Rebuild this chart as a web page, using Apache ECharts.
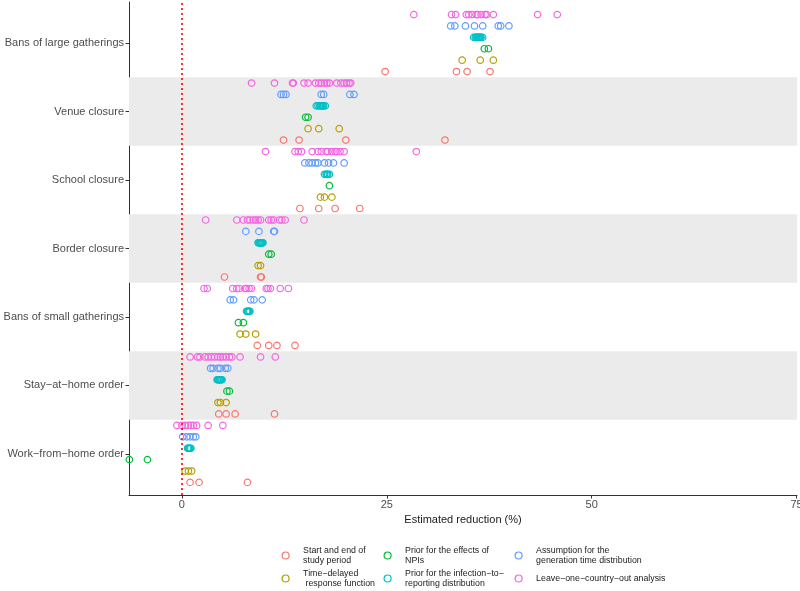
<!DOCTYPE html>
<html>
<head>
<meta charset="utf-8">
<script src="https://cdn.jsdelivr.net/npm/echarts@6/dist/echarts.min.js"></script>
<style>
html,body{margin:0;padding:0;background:#fff;}
#chart{width:800px;height:591px;}
</style>
</head>
<body>
<div id="chart"></div>
<script>
// Categories, listed top to bottom
const categories = ['Bans of large gatherings', 'Venue closure', 'School closure', 'Border closure',
  'Bans of small gatherings', 'Stay\u2212at\u2212home order', 'Work\u2212from\u2212home order'];

// Estimated reduction (%) per category (same order as categories)
const startEnd = [
  [24.8, 33.5, 34.8, 37.6],
  [12.4, 14.3, 20.0, 32.1],
  [14.4, 16.7, 18.7, 21.7],
  [5.2, 9.6, 9.7],
  [9.2, 10.6, 11.6, 13.8],
  [4.5, 5.4, 6.5, 11.3],
  [1.0, 2.1, 8.0]
];
const timeDelayed = [
  [34.2, 36.4, 38.0],
  [15.4, 16.7, 19.2],
  [16.9, 17.4, 18.3],
  [9.3, 9.6],
  [7.1, 7.8, 9.0],
  [4.4, 4.7, 5.4],
  [0.4, 0.8, 1.2]
];
const priorNPI = [
  [36.9, 37.4],
  [15.1, 15.4],
  [18.0],
  [10.6, 10.9],
  [6.9, 7.5],
  [5.5, 5.8],
  [-6.4, -4.2]
];
const priorReporting = [
  [35.6, 35.8, 35.9, 36.0, 36.1, 36.2, 36.3, 36.4, 36.5, 36.7],
  [16.4, 16.6, 16.8, 16.9, 17.0, 17.1, 17.2, 17.3, 17.5],
  [17.4, 17.6, 17.7, 17.8, 18.0],
  [9.3, 9.4, 9.5, 9.6, 9.7, 9.8, 9.9],
  [7.9, 8.0, 8.1, 8.2, 8.3],
  [4.3, 4.4, 4.5, 4.6, 4.7, 4.8, 4.9],
  [0.7, 0.8, 0.9, 1.0, 1.1]
];
const generationTime = [
  [32.8, 33.3, 34.6, 35.7, 36.7, 38.6, 38.9, 39.9],
  [12.1, 12.4, 12.7, 17.0, 17.3, 20.5, 21.0],
  [15.0, 15.5, 15.9, 16.3, 16.6, 17.4, 17.9, 18.5, 19.8],
  [7.8, 9.4, 11.2, 11.3],
  [5.9, 6.3, 8.4, 8.8, 9.8],
  [3.5, 3.8, 4.4, 4.7, 5.3, 5.6],
  [0.1, 0.6, 1.0, 1.4, 1.7]
];
const leaveOneOut = [
  [28.3, 32.9, 33.4, 34.7, 35.0, 35.4, 35.9, 36.1, 36.5, 37.0, 37.2, 38.0, 43.4, 45.8],
  [8.5, 11.3, 13.5, 13.6, 14.9, 15.4, 16.3, 16.7, 17.0, 17.4, 17.7, 18.0, 18.9, 19.4, 19.8, 20.1, 20.4, 20.6],
  [10.2, 13.8, 14.2, 14.6, 15.9, 16.6, 17.0, 17.6, 17.8, 18.3, 18.7, 18.9, 19.3, 19.8, 28.6],
  [2.9, 6.7, 7.5, 8.0, 8.3, 8.7, 9.0, 9.3, 9.6, 10.6, 10.9, 11.2, 11.9, 12.2, 12.6, 14.9],
  [2.7, 3.1, 6.2, 6.7, 7.0, 7.7, 7.9, 8.2, 8.5, 10.3, 10.5, 10.8, 12.0, 13.0],
  [1.0, 1.9, 2.2, 2.8, 3.2, 3.6, 4.0, 4.4, 4.7, 5.0, 5.4, 5.8, 6.1, 7.1, 9.6, 11.4],
  [-0.6, 0.0, 0.4, 0.8, 1.1, 1.4, 1.8, 3.2, 5.0]
];

const seriesNames = [
  'Start and end of\nstudy period',
  'Time\u2212delayed\n response function',
  'Prior for the effects of\nNPIs',
  'Prior for the infection\u2212to\u2212\nreporting distribution',
  'Assumption for the\ngeneration time distribution',
  'Leave\u2212one\u2212country\u2212out analysis'
];
const seriesValues = [startEnd, timeDelayed, priorNPI, priorReporting, generationTime, leaveOneOut];
const colors = ['#F8766D', '#B79F00', '#00BA38', '#00BFC4', '#619CFF', '#F564E3'];
const dodge = [-0.416, -0.25, -0.083, 0.083, 0.25, 0.416];
const xTicks = [0, 25, 50, 75];

const nCat = categories.length;
function rowY(i) { return nCat - 1 - i; }

const series = [];
// background bands + zero line
series.push({
  type: 'scatter', data: [], silent: true, z: 1,
  markArea: {
    silent: true,
    itemStyle: { color: '#EBEBEB' },
    data: categories.map((c, i) => i).filter(i => i % 2 === 1)
      .map(i => [{ yAxis: rowY(i) - 0.5 }, { yAxis: rowY(i) + 0.5 }])
  },
  markLine: {
    silent: true, symbol: 'none', label: { show: false },
    lineStyle: { color: '#FF0000', type: [2, 3], width: 1.6 },
    data: [{ xAxis: 0 }]
  }
});
seriesValues.forEach((vals, s) => {
  const data = [];
  vals.forEach((arr, i) => arr.forEach(v => data.push([v, rowY(i) + dodge[s]])));
  series.push({
    name: seriesNames[s], type: 'scatter', z: 3,
    symbol: 'circle', symbolSize: 6.5,
    itemStyle: { color: 'rgba(0,0,0,0)', borderColor: colors[s], borderWidth: 1.2, opacity: 1 },
    data: data
  });
});

// [icon centre x, legend top y]
const legendPos = [[285, 545.5], [285, 568.5], [387, 545.5], [387, 568.5], [518, 545.5], [518, 573.5]];
const legends = seriesNames.map((n, s) => ({
  data: [n], orient: 'horizontal', padding: 0,
  left: legendPos[s][0] - 3.5, top: legendPos[s][1],
  itemWidth: 25, itemHeight: 7, selectedMode: false,
  icon: 'circle',
  itemStyle: { color: 'rgba(0,0,0,0)', borderColor: colors[s], borderWidth: 1.2 },
  textStyle: { fontFamily: 'Liberation Sans, Arial, sans-serif', fontSize: 8.8, lineHeight: 10, color: '#1a1a1a' }
}));

const chart = echarts.init(document.getElementById('chart'), null, { renderer: 'canvas' });
chart.setOption({
  animation: false,
  backgroundColor: '#fff',
  grid: { left: 129, right: 3, top: 2, bottom: 96, containLabel: false, outerBoundsMode: 'none' },
  legend: legends,
  xAxis: {
    type: 'value', min: -6.45, max: 75.05,
    name: 'Estimated reduction (%)', nameLocation: 'middle', nameGap: 19,
    nameTextStyle: { fontFamily: 'Liberation Sans, Arial, sans-serif', fontSize: 11, color: '#1a1a1a' },
    axisLine: { show: true, onZero: false, lineStyle: { color: '#333', width: 1 } },
    axisTick: { show: true, length: 3.5, customValues: xTicks, lineStyle: { color: '#333' } },
    axisLabel: { customValues: xTicks, fontFamily: 'Liberation Sans, Arial, sans-serif', fontSize: 11, color: '#4D4D4D', margin: 4 },
    splitLine: { show: false }
  },
  yAxis: {
    type: 'value', min: -0.6, max: 6.6,
    axisLine: { show: true, onZero: false, lineStyle: { color: '#333', width: 1 } },
    axisTick: { show: true, length: 3.5, customValues: categories.map((c, i) => rowY(i)), lineStyle: { color: '#333' } },
    axisLabel: {
      customValues: categories.map((c, i) => rowY(i)),
      formatter: v => categories[nCat - 1 - Math.round(v)],
      fontFamily: 'Liberation Sans, Arial, sans-serif', fontSize: 11, color: '#4D4D4D', margin: 5
    },
    splitLine: { show: false }
  },
  series: series
});
</script>
</body>
</html>
